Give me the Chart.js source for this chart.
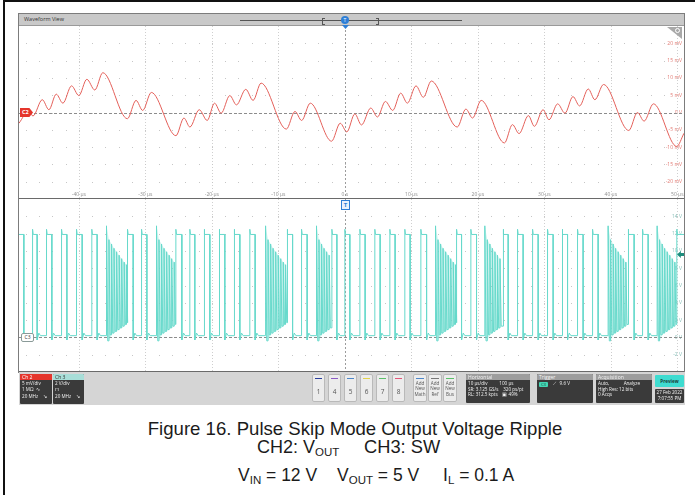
<!DOCTYPE html>
<html>
<head>
<meta charset="utf-8">
<script src="https://cdn.jsdelivr.net/npm/chart.js@4.4.1/dist/chart.umd.min.js"></script>
<style>
  html, body { margin: 0; padding: 0; background: #fff; }
  #page { position: relative; width: 695px; height: 495px; overflow: hidden; font-family: "Liberation Sans", Arial, sans-serif; }
  .a { position: absolute; }
  .ui { font-family: "Open Sans", "Noto Sans", sans-serif; }
  .box { position: absolute; background: #3a3a3a; border-radius: 1px; overflow: hidden; }
  .box .hd { height: 6px; line-height: 6px; font-size: 5px; padding-left: 2px; }
  .box .ln { font-size: 4.6px; line-height: 5.6px; color: #f2f2f2; padding-left: 2px; white-space: pre; }
  .btn { position: absolute; top: 374px; width: 13px; height: 28px; background: #ececec; border: 1px solid #b9b9b9; border-radius: 2px; box-sizing: border-box; }
  .btn .bar { position: absolute; left: 2px; right: 2px; top: 3px; height: 1px; }
  .btn .num { position: absolute; left: 0; right: 0; top: 12px; text-align: center; font-size: 6.5px; color: #555; }
  .btn .txt { position: absolute; left: 0; right: 0; top: 6px; text-align: center; font-size: 4.6px; line-height: 5.4px; color: #555; }
  .cap { position: absolute; color: #1b1b1b; white-space: pre; font-size: 17.5px; line-height: 20px; }
  .cap sub { font-size: 11.5px; vertical-align: -3px; line-height: 0; }
</style>
</head>
<body>
<div id="page">
  <!-- outer frame of the capture -->
  <div class="a" style="left:3px;top:0;width:692px;height:2px;background:#111"></div>
  <div class="a" style="left:3px;top:0;width:2px;height:495px;background:#111"></div>

  <!-- waveform view frame and header -->
  <div class="a" style="left:18px;top:13px;width:665px;height:358px;border:1px solid #7c7c7c"></div>
  <div class="a" style="left:19px;top:14px;width:665px;height:11px;background:#c9c9c9;border-bottom:1px solid #9a9a9a"></div>
  <div class="a ui" style="left:24px;top:16px;font-size:5.5px;line-height:7px;color:#333">Waveform View</div>
  <div class="a" style="left:240px;top:20px;width:222px;height:1px;background:#555"></div>
  <div class="a" style="left:322px;top:18px;width:2px;height:5px;border:1px solid #555;border-right:none"></div>
  <div class="a" style="left:376px;top:18px;width:2px;height:5px;border:1px solid #555;border-left:none"></div>

  <canvas id="ch2" class="a" width="665" height="173" style="left:19px;top:26px"></canvas>
  <canvas id="ch3" class="a" width="665" height="173" style="left:19px;top:199px"></canvas>

  <!-- panel separator and bottom edge -->
  <div class="a" style="left:19px;top:198px;width:665px;height:1px;background:#6a6a6a"></div>
  <div class="a" style="left:19px;top:371px;width:665px;height:1px;background:#6a6a6a"></div>

  <!-- horizontal position marker -->
  <div class="a" style="left:341px;top:16px;width:8px;height:8px;border-radius:50%;background:#2e7fd6"></div>
  <div class="a ui" style="left:341px;top:16px;width:8px;height:8px;font-size:5px;line-height:8px;text-align:center;color:#fff">T</div>
  <div class="a" style="left:342px;top:25px;width:7px;height:4px;background:#2e7fd6;clip-path:polygon(0 0,100% 0,50% 100%)"></div>
  <div class="a ui" style="left:341px;top:200px;width:7px;height:8px;border:1px solid #2e7fd6;background:#eaf2fd;font-size:6px;line-height:8px;text-align:center;color:#2e7fd6;font-weight:bold">T</div>

  <!-- channel markers -->
  <div class="a ui" style="left:20px;top:108px;width:13px;height:9px;background:#e5352c;clip-path:polygon(0 0,72% 0,100% 50%,72% 100%,0 100%);color:#fff;font-size:5.5px;line-height:9px;padding-left:2px;box-sizing:border-box;font-weight:bold">C2</div>
  <div class="a ui" style="left:21px;top:333px;width:11px;height:7px;background:#fff;border:1px solid #8a9a98;border-radius:2px;color:#333;font-size:5px;line-height:7px;text-align:center">C3</div>
  <div class="a" style="left:667px;top:27px;width:15px;height:12px;background:#a9a9a9;clip-path:polygon(0 0,100% 0,100% 100%)"></div>
  <div class="a" style="left:675px;top:28px;width:3px;height:3px;border:1px solid #fff;border-radius:50%"></div>
  <div class="a" style="left:677px;top:251px;width:7px;height:7px;background:#1d8c7c;clip-path:polygon(0 50%,55% 0,55% 30%,100% 30%,100% 70%,55% 70%,55% 100%)"></div>

  <!-- instrument toolbar -->
  <div class="a" style="left:19px;top:372px;width:666px;height:33px;background:#d5d5d5"></div>
  <div class="box ui" style="left:20px;top:374px;width:32px;height:30px">
    <div class="hd" style="background:#e5352c;color:#fff">Ch 2</div>
    <div class="ln" style="margin-top:1px">5 mV/div</div>
    <div class="ln">1 MΩ  ∿</div>
    <div class="ln" style="margin-top:2px">20 MHz    ↘</div>
  </div>
  <div class="box ui" style="left:53px;top:374px;width:31px;height:30px">
    <div class="hd" style="background:#a8ded8;color:#333">Ch 3</div>
    <div class="ln" style="margin-top:1px">2 V/div</div>
    <div class="ln">⊓</div>
    <div class="ln" style="margin-top:2px">20 MHz    ↘</div>
  </div>
  <div class="btn ui" style="left:312px"><div class="bar" style="background:#2b3f9c"></div><div class="num">1</div></div>
  <div class="btn ui" style="left:328px"><div class="bar" style="background:#8a5bc4"></div><div class="num">4</div></div>
  <div class="btn ui" style="left:344px"><div class="bar" style="background:#4d86c9"></div><div class="num">5</div></div>
  <div class="btn ui" style="left:360px"><div class="bar" style="background:#e2d24a"></div><div class="num">6</div></div>
  <div class="btn ui" style="left:376px"><div class="bar" style="background:#5bbf6a"></div><div class="num">7</div></div>
  <div class="btn ui" style="left:392px"><div class="bar" style="background:#e2577a"></div><div class="num">8</div></div>
  <div class="btn ui" style="left:413px;width:14px"><div class="bar" style="background:#4d86c9"></div><div class="txt">Add<br>New<br>Math</div></div>
  <div class="btn ui" style="left:428px;width:14px"><div class="bar" style="background:#777"></div><div class="txt">Add<br>New<br>Ref</div></div>
  <div class="btn ui" style="left:443px;width:14px"><div class="bar" style="background:#5bbf6a"></div><div class="txt">Add<br>New<br>Bus</div></div>

  <div class="box ui" style="left:466px;top:374px;width:64px;height:29px">
    <div class="hd" style="background:#9d9d9d;color:#f4f4f4">Horizontal</div>
    <div class="ln" style="margin-top:1px">10 µs/div          100 µs</div>
    <div class="ln">SR: 3.125 GS/s    320 ps/pt</div>
    <div class="ln">RL: 312.5 kpts    ▣ 49%</div>
  </div>
  <div class="box ui" style="left:537px;top:374px;width:56px;height:29px">
    <div class="hd" style="background:#9d9d9d;color:#f4f4f4">Trigger</div>
    <div class="a" style="left:2px;top:8px;width:9px;height:5px;background:#43d6b4;border-radius:1px;font-size:4.2px;line-height:5px;text-align:center;color:#1b4d44">C3</div>
    <div class="ln a" style="left:14px;top:7px">⟋   9.6 V</div>
  </div>
  <div class="box ui" style="left:596px;top:374px;width:56px;height:29px">
    <div class="hd" style="background:#9d9d9d;color:#f4f4f4">Acquisition</div>
    <div class="ln" style="margin-top:1px">Auto,            Analyze</div>
    <div class="ln">High Res: 12 bits</div>
    <div class="ln">0 Acqs</div>
  </div>
  <div class="a ui" style="left:655px;top:375px;width:29px;height:12px;background:#3fdcd0;border-radius:1px;font-size:4.6px;line-height:12px;text-align:center;color:#1c3c3a;font-weight:bold">Preview</div>
  <div class="box ui" style="left:655px;top:389px;width:29px;height:14px">
    <div class="ln" style="text-align:center;padding:0;margin-top:1px">27 Feb 2022</div>
    <div class="ln" style="text-align:center;padding:0">7:07:55 PM</div>
  </div>

  <!-- caption -->
  <div class="cap" style="left:55px;top:419px;width:600px;text-align:center;font-size:18.6px">Figure 16. Pulse Skip Mode Output Voltage Ripple</div>
  <div class="cap" style="left:257px;top:437px;font-size:18px">CH2: V<sub>OUT</sub></div>
  <div class="cap" style="left:364px;top:437px;font-size:18.3px">CH3: SW</div>
  <div class="cap" style="left:238px;top:465px">V<sub>IN</sub> = 12 V</div>
  <div class="cap" style="left:337px;top:465px">V<sub>OUT</sub> = 5 V</div>
  <div class="cap" style="left:443px;top:465px">I<sub>L</sub> = 0.1 A</div>
</div>

<script>
// ---- axes ----
const TIME_TICKS  = [-40, -30, -20, -10, 0, 10, 20, 30, 40, 50];
const TIME_LABELS = ['-40 µs', '-30 µs', '-20 µs', '-10 µs', '0 s', '10 µs', '20 µs', '30 µs', '40 µs', '50 µs'];
const CH2_TICKS   = [20, 15, 10, 5, 0, -5, -10, -15, -20];
const CH2_LABELS  = ['20 mV', '15 mV', '10 mV', '5 mV', '0 V', '-5 mV', '-10 mV', '-15 mV', '-20 mV'];
const CH3_TICKS   = [14, 12, 10, 8, 6, 4, 2, 0, -2];
const CH3_LABELS  = ['14 V', '12 V', '10 V', '8 V', '6 V', '4 V', '2 V', '0 V', '-2 V'];

// ---- CH2: output ripple, turning points of the trace (µs, mV) ----
const RIPPLE_T  = [-49.0, -47.6, -46.9, -45.5, -44.5, -43.4, -42.4, -41.1, -40.0, -38.8, -37.6, -36.4,
                   -32.7, -31.4, -30.4, -29.1, -25.4, -24.2, -23.3, -21.9, -20.7, -19.6, -18.6, -17.3,
                   -16.3, -14.9, -13.8, -12.6, -8.8, -7.5, -6.5, -5.2, -2.0, -0.7, 0.3, 1.5,
                   2.5, 3.9, 4.9, 6.1, 7.2, 8.4, 9.4, 10.7, 11.8, 13.0, 16.9, 18.2,
                   19.2, 20.5, 24.0, 25.2, 26.2, 27.6, 28.5, 29.8, 30.7, 32.0, 33.1, 34.3,
                   35.3, 36.6, 37.6, 38.9, 42.7, 44.0, 45.0, 46.4, 49.9, 51.0];
const RIPPLE_MV = [-3.1, 0.3, -1.0, 3.7, 0.8, 5.3, 2.7, 7.7, 4.9, 9.6, 6.5, 11.5,
                   -1.8, 3.5, 0.6, 5.8, -6.7, -1.6, -4.2, 0.8, -2.3, 2.7, -0.2, 4.9,
                   2.2, 6.7, 3.5, 8.5, -4.8, 0.3, -2.3, 2.7, -8.3, -3.1, -5.6, -0.4,
                   -3.6, 1.3, -1.3, 3.2, 0.6, 5.6, 2.7, 7.7, 4.4, 9.1, -4.2, 1.0,
                   -1.6, 3.5, -8.8, -3.5, -6.1, -0.9, -4.0, 0.8, -2.1, 2.5, -0.2, 4.6,
                   1.9, 6.8, 3.7, 8.1, -5.2, 0.0, -2.5, 2.5, -9.8, -6.0];

// ---- CH3: switch node ----
// switching pulses: rising and falling edge instants (µs)
const SW_RISE = [-49.5, -46.96, -44.86, -42.60, -40.35, -38.05, -32.68, -30.57, -25.41, -23.31, -21.16, -18.90,
                 -16.65, -14.29, -8.68, -6.51, -1.95, 0.0, 2.26, 4.51, 6.77, 9.02, 11.43, 16.80,
                 18.95, 23.80, 25.97, 28.23, 30.48, 32.68, 34.99, 37.25, 42.60, 44.77, 49.92];
const SW_FALL = [-48.27, -46.27, -44.06, -41.80, -39.50, -37.25, -31.83, -29.77, -24.51, -22.56, -20.30, -18.05,
                 -15.79, -13.49, -7.86, -5.67, -1.20, 0.75, 3.05, 5.31, 7.56, 9.82, 12.29, 17.55,
                 19.80, 24.56, 26.81, 29.07, 31.32, 33.49, 35.83, 38.09, 43.50, 45.61, 51.5];
const SW_HIGH = 11.9;      // V, on level
const SW_LOW = 0.2;        // V, off level
const SW_OVERSHOOT = 12.5; // V, edge overshoot
const SW_UNDERSHOOT = -0.3;
const SW_BOUNCE = 0.5;
// ringing bursts: start instants (µs) and number of swings in each
const BURST_START  = [-35.84, -28.32, -11.92, -4.26, 13.64, 21.05, 39.59, 46.96];
const BURST_SWINGS = [9, 8, 9, 6, 9, 7, 8, 8];
// swing instants inside a burst (µs after its start) with their crest and trough (V)
const BURST_OFFSET = [0, 0.37, 0.76, 1.13, 1.52, 1.90, 2.28, 2.66, 3.00];
const BURST_PEAK   = [12.9, 11.3, 10.8, 10.3, 9.9, 9.5, 9.1, 8.7, 8.4];
const BURST_TROUGH = [-0.4, 0.3, 0.5, 0.7, 0.9, 1.1, 1.3, 1.5, 1.7];
const BURST_FALL = 0.18;   // µs from crest to trough

function ripplePoints() {
  return RIPPLE_T.map((t, i) => ({ x: t, y: RIPPLE_MV[i] }));
}

function switchNodePoints() {
  const events = [];
  SW_RISE.forEach((t, i) => events.push({ t, kind: 'pulse', fall: SW_FALL[i] }));
  BURST_START.forEach((t, i) => events.push({ t, kind: 'burst', n: BURST_SWINGS[i] }));
  events.sort((a, b) => a.t - b.t);
  const pts = [];
  let level = SW_LOW;
  for (const ev of events) {
    if (ev.kind === 'pulse') {
      pts.push({ x: ev.t, y: level }, { x: ev.t, y: SW_OVERSHOOT }, { x: ev.t + 0.1, y: SW_HIGH },
               { x: ev.fall, y: SW_HIGH }, { x: ev.fall, y: SW_UNDERSHOOT },
               { x: ev.fall + 0.25, y: SW_BOUNCE }, { x: ev.fall + 0.5, y: SW_LOW });
      level = SW_LOW;
    } else {
      for (let k = 0; k < ev.n; k++) {
        const t = ev.t + BURST_OFFSET[k];
        pts.push({ x: t, y: level }, { x: t, y: BURST_PEAK[k] }, { x: t + BURST_FALL, y: BURST_TROUGH[k] });
        level = BURST_TROUGH[k];
      }
    }
  }
  return pts;
}

// crest / trough envelopes of the ringing bursts (gaps between bursts)
function burstEnvelope(upper) {
  const pts = [];
  BURST_START.forEach((s, i) => {
    const n = BURST_SWINGS[i];
    for (let k = 0; k < n; k++) {
      const t = s + BURST_OFFSET[k];
      pts.push(upper ? { x: t, y: BURST_PEAK[k] } : { x: t, y: k ? BURST_TROUGH[k - 1] : SW_LOW });
    }
    pts.push({ x: s + BURST_OFFSET[n - 1] + BURST_FALL, y: upper ? BURST_PEAK[n - 1] : BURST_TROUGH[n - 1] });
    pts.push({ x: s + BURST_OFFSET[n - 1] + 0.4, y: null });
  });
  return pts;
}

// oscilloscope graticule: dotted divisions, trigger instant and channel ground line
const scopeGrid = {
  id: 'scopeGrid',
  beforeDatasetsDraw(chart) {
    const { ctx, chartArea: a, scales: { x, y } } = chart;
    ctx.save();
    ctx.lineWidth = 1;
    ctx.strokeStyle = '#cfcfcf';
    ctx.setLineDash([1, 2]);
    x.ticks.forEach(tk => {
      if (tk.value === 0) return;
      const px = Math.round(x.getPixelForValue(tk.value)) + 0.5;
      ctx.beginPath(); ctx.moveTo(px, a.top); ctx.lineTo(px, a.bottom); ctx.stroke();
    });
    ctx.fillStyle = '#c6c6c6';
    y.ticks.forEach(tk => {
      const py = Math.round(y.getPixelForValue(tk.value));
      for (let s = Math.ceil(x.min / 2) * 2; s <= x.max; s += 2) {
        ctx.fillRect(Math.round(x.getPixelForValue(s)), py, 1, 1);
      }
    });
    ctx.strokeStyle = '#9c9c9c';
    ctx.setLineDash([2, 2]);
    const p0 = Math.round(x.getPixelForValue(0)) + 0.5;
    ctx.beginPath(); ctx.moveTo(p0, a.top); ctx.lineTo(p0, a.bottom); ctx.stroke();
    ctx.strokeStyle = '#8c8c8c';
    ctx.setLineDash([3, 2]);
    const g = Math.round(y.getPixelForValue(0)) + 0.5;
    ctx.beginPath(); ctx.moveTo(a.left, g); ctx.lineTo(a.right, g); ctx.stroke();
    ctx.restore();
  }
};

const tickFont = { family: 'Open Sans', size: 5 };

function timeAxis(showLabels) {
  return {
    type: 'linear', min: -49, max: 51, position: 'bottom',
    afterBuildTicks: s => { s.ticks = TIME_TICKS.map(v => ({ value: v })); },
    afterFit: s => { s.height = 0; s.paddingLeft = 0; s.paddingRight = 0; },
    grid: { display: false }, border: { display: false },
    ticks: { display: showLabels, mirror: true, padding: 1, autoSkip: false, maxRotation: 0, minRotation: 0,
             color: '#8e8e8e', font: tickFont, callback: (v, i) => TIME_LABELS[i] }
  };
}

function levelAxis(min, max, ticks, labels, color) {
  return {
    type: 'linear', min, max, position: 'right',
    afterBuildTicks: s => { s.ticks = ticks.map(v => ({ value: v })); },
    afterFit: s => { s.width = 0; s.paddingTop = 0; s.paddingBottom = 0; },
    grid: { display: false }, border: { display: false },
    ticks: { mirror: true, padding: -2, autoSkip: false, color, font: tickFont, callback: (v, i) => labels[i] }
  };
}

const common = {
  responsive: false, animation: false, devicePixelRatio: 1,
  layout: { padding: 0 },
  plugins: { legend: { display: false }, tooltip: { enabled: false }, filler: { propagate: false } },
  elements: { point: { radius: 0 } }
};

new Chart(document.getElementById('ch2'), {
  type: 'line',
  data: { datasets: [{ data: ripplePoints(), borderColor: '#e4605a', borderWidth: 1, cubicInterpolationMode: 'monotone' }] },
  options: { ...common, scales: { x: timeAxis(true), y: levelAxis(-25, 25, CH2_TICKS, CH2_LABELS, '#e27a73') } },
  plugins: [scopeGrid]
});

new Chart(document.getElementById('ch3'), {
  type: 'line',
  data: { datasets: [
    { data: switchNodePoints(), borderColor: '#66d9cb', borderWidth: 1, tension: 0, order: 0, fill: false },
    { data: burstEnvelope(true), borderWidth: 0, borderColor: 'rgba(0,0,0,0)', spanGaps: false, order: 1,
      fill: '+1', backgroundColor: 'rgba(110, 220, 205, 0.3)' },
    { data: burstEnvelope(false), borderWidth: 0, borderColor: 'rgba(0,0,0,0)', spanGaps: false, order: 2, fill: false }
  ] },
  options: { ...common, scales: { x: timeAxis(false), y: levelAxis(-4, 16, CH3_TICKS, CH3_LABELS, '#86bdb7') } },
  plugins: [scopeGrid]
});
</script>
</body>
</html>
